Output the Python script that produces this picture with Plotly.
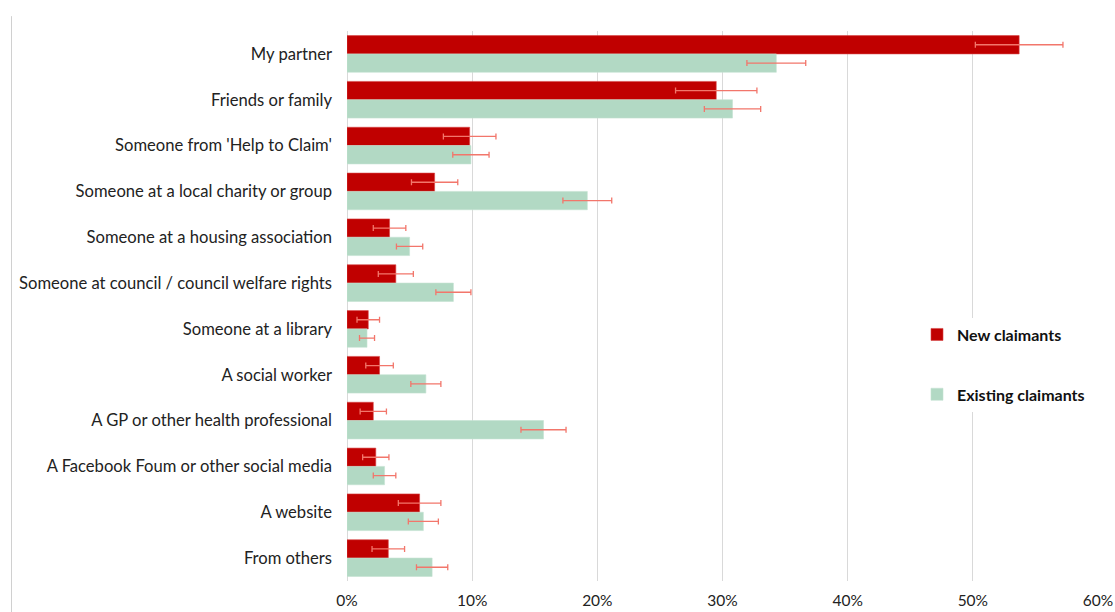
import plotly.graph_objects as go

categories = [
    "My partner",
    "Friends or family",
    "Someone from 'Help to Claim'",
    "Someone at a local charity or group",
    "Someone at a housing association",
    "Someone at council / council welfare rights",
    "Someone at a library",
    "A social worker",
    "A GP or other health professional",
    "A Facebook Foum or other social media",
    "A website",
    "From others",
]

new_claimants = [53.7, 29.5, 9.8, 7.0, 3.4, 3.9, 1.7, 2.6, 2.1, 2.3, 5.8, 3.3]
new_err = [3.5, 3.25, 2.1, 1.85, 1.3, 1.4, 0.9, 1.1, 1.05, 1.05, 1.7, 1.3]

existing_claimants = [34.3, 30.8, 9.9, 19.2, 5.0, 8.5, 1.6, 6.3, 15.7, 3.0, 6.1, 6.8]
existing_err = [2.35, 2.25, 1.45, 1.95, 1.05, 1.4, 0.6, 1.2, 1.8, 0.9, 1.2, 1.25]

x_ticks = [0, 10, 20, 30, 40, 50, 60]
x_tick_labels = ["0%", "10%", "20%", "30%", "40%", "50%", "60%"]

RED = "#C00000"
GREEN = "#B2D9C4"
ERR = "#F2766B"
FONT = "Lato"

fig = go.Figure()
fig.add_trace(go.Bar(
    y=categories, x=new_claimants, orientation="h", name="New claimants",
    marker=dict(color=RED, line=dict(color="#D64545", width=0.6)),
    error_x=dict(type="data", array=new_err, color=ERR, thickness=1.3, width=3),
    legendgroup="new",
))
fig.add_trace(go.Bar(
    y=categories, x=existing_claimants, orientation="h", name="Existing claimants",
    marker=dict(color=GREEN, line=dict(color="#C4E3D2", width=0.6)),
    error_x=dict(type="data", array=existing_err, color=ERR, thickness=1.3, width=3),
    legendgroup="existing",
))

fig.update_layout(
    width=1115, height=612,
    margin=dict(l=347, r=17, t=31, b=31),
    paper_bgcolor="white", plot_bgcolor="white",
    barmode="group", bargap=0.2, bargroupgap=0,
    font=dict(family=FONT, size=16.6, color="#222222"),
    legend=dict(
        x=0.759, xanchor="left", y=0.479, yanchor="top",
        bgcolor="white", borderwidth=0,
        font=dict(family=FONT, size=16, color="#111111", weight="bold"),
        tracegroupgap=36, itemwidth=30,
    ),
    shapes=[dict(
        type="line", xref="paper", yref="paper",
        x0=-0.4467, x1=-0.4467, y0=1.027, y1=-0.06,
        line=dict(color="#D0D0D0", width=1),
    )],
)

fig.update_xaxes(
    range=[0, 60], tickvals=x_ticks, ticktext=x_tick_labels,
    showgrid=True, gridcolor="#D9D9D9", gridwidth=1,
    zeroline=True, zerolinecolor="#D9D9D9", zerolinewidth=1,
    showline=False, ticks="", tickfont=dict(size=15.5, color="#222222"),
    ticklabelstandoff=8, automargin=False,
)
fig.update_yaxes(
    autorange="reversed", showgrid=False, ticks="", showline=False,
    ticklabelstandoff=14, tickfont=dict(size=16.6, color="#222222"),
    automargin=False,
)

fig.write_html("out.html")
